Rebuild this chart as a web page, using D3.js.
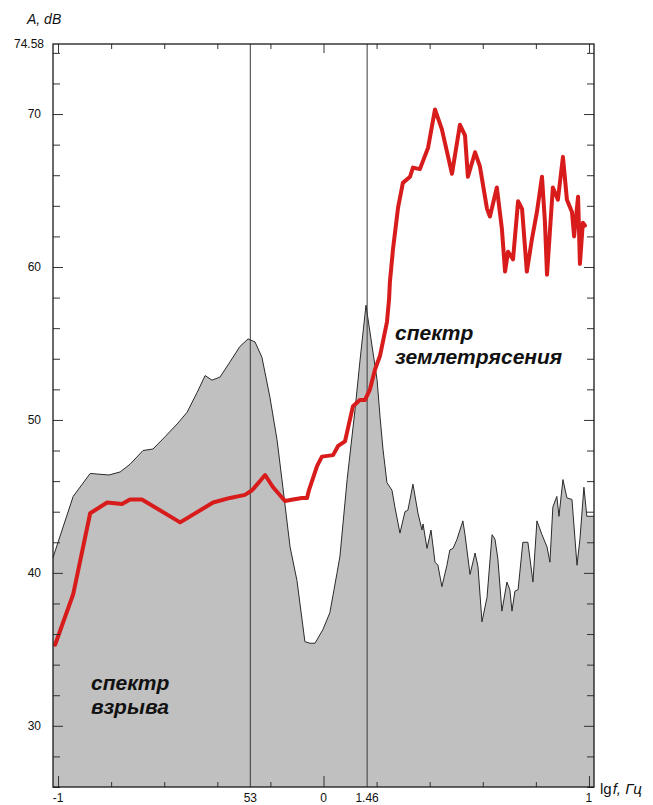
<!DOCTYPE html>
<html>
<head>
<meta charset="utf-8">
<script src="https://cdn.jsdelivr.net/npm/d3@7"></script>
<style>
  html, body { margin: 0; padding: 0; background: #fff; }
  svg { display: block; font-family: "Liberation Sans", Arial, sans-serif; }
</style>
</head>
<body>
<svg id="chart" width="653" height="805"></svg>
<script>
// Amplitude axis ticks (dB)
const yMajorTicks = [30, 40, 50, 60, 70];
const yMinorTicks = [26, 28, 32, 34, 36, 38, 42, 44, 46, 48, 52, 54, 56, 58, 62, 64, 66, 68, 72, 74];
const yTopValue = 74.58;
const yTopLabel = "74.58";

// Frequency axis ticks (lg f)
const xMinorTicks = [-0.8, -0.6, -0.4, -0.2, 0.2, 0.4, 0.6, 0.8];
const xMajorTicks = [-1, 0, 1];
const xMajorLabels = ["-1", "0", "1"];

// Marked frequencies, Hz
const markerFreqs = [0.53, 1.46];
const markerLabels = ["53", "1.46"];

// Explosion spectrum: [lg f, A dB]
const explosionSpectrum = [
  [-1.019, 41.0], [-0.943, 45.0], [-0.879, 46.5], [-0.808, 46.4], [-0.766, 46.6],
  [-0.729, 47.1], [-0.680, 48.0], [-0.642, 48.1], [-0.597, 48.9], [-0.548, 49.8],
  [-0.514, 50.5], [-0.476, 51.8], [-0.446, 52.9], [-0.420, 52.6], [-0.390, 52.8],
  [-0.352, 53.8], [-0.315, 54.8], [-0.284, 55.3], [-0.258, 55.1], [-0.232, 54.1],
  [-0.202, 51.5], [-0.175, 48.7], [-0.153, 45.6], [-0.126, 41.7], [-0.100, 39.5],
  [-0.070, 35.5], [-0.051, 35.4], [-0.032, 35.4], [-0.002, 36.3], [0.024, 37.4],
  [0.051, 40.0], [0.062, 41.1], [0.089, 46.1], [0.119, 50.7], [0.137, 53.8],
  [0.160, 57.5], [0.202, 52.6], [0.213, 50.2], [0.224, 48.1], [0.239, 45.9],
  [0.258, 45.4], [0.269, 44.3], [0.288, 42.6], [0.307, 44.0], [0.318, 44.1],
  [0.337, 45.8], [0.356, 43.9], [0.371, 42.8], [0.375, 43.2], [0.390, 41.6],
  [0.405, 42.8], [0.420, 40.7], [0.431, 40.5], [0.446, 39.1], [0.465, 40.5],
  [0.476, 41.5], [0.488, 41.6], [0.503, 42.2], [0.525, 43.4], [0.533, 42.5],
  [0.552, 39.9], [0.571, 41.3], [0.582, 40.4], [0.597, 36.8], [0.616, 38.4],
  [0.635, 42.5], [0.646, 42.2], [0.657, 40.9], [0.672, 37.5], [0.691, 39.4],
  [0.702, 38.9], [0.710, 37.5], [0.721, 38.8], [0.733, 38.9], [0.751, 42.0],
  [0.770, 42.0], [0.789, 39.4], [0.804, 43.4], [0.823, 42.5], [0.842, 41.7],
  [0.853, 40.7], [0.864, 44.3], [0.879, 45.0], [0.887, 43.7], [0.902, 46.1],
  [0.917, 44.9], [0.936, 44.8], [0.955, 40.5], [0.966, 42.2], [0.981, 45.6],
  [0.992, 43.7], [1.019, 43.7]
];

// Earthquake spectrum: [lg f, A dB]
const quakeSpectrum = [
  [-1.011, 35.3], [-0.943, 38.6], [-0.879, 43.9], [-0.815, 44.6], [-0.759, 44.5],
  [-0.729, 44.8], [-0.684, 44.8], [-0.540, 43.3], [-0.416, 44.6], [-0.352, 44.9],
  [-0.296, 45.1], [-0.269, 45.4], [-0.220, 46.4], [-0.190, 45.6], [-0.145, 44.7],
  [-0.115, 44.8], [-0.081, 44.9], [-0.062, 44.9], [-0.055, 45.4], [-0.024, 47.0],
  [-0.006, 47.6], [0.036, 47.7], [0.055, 48.3], [0.081, 48.6], [0.111, 50.9],
  [0.137, 51.3], [0.156, 51.3], [0.175, 52.0], [0.194, 53.3], [0.213, 54.2],
  [0.239, 56.4], [0.247, 57.9], [0.250, 59.0], [0.262, 61.2], [0.281, 63.9],
  [0.299, 65.5], [0.326, 65.9], [0.337, 66.5], [0.363, 66.4], [0.394, 67.8],
  [0.420, 70.3], [0.446, 69.0], [0.484, 66.1], [0.514, 69.3], [0.533, 68.6],
  [0.544, 65.9], [0.571, 67.5], [0.589, 66.6], [0.616, 63.8], [0.627, 63.3],
  [0.653, 65.2], [0.672, 62.5], [0.684, 59.7], [0.695, 61.0], [0.714, 60.5],
  [0.733, 64.3], [0.748, 63.8], [0.766, 59.7], [0.785, 61.8], [0.804, 63.6],
  [0.823, 65.9], [0.834, 63.0], [0.842, 59.5], [0.864, 65.2], [0.883, 64.4],
  [0.902, 67.2], [0.917, 64.4], [0.936, 63.6], [0.944, 62.0], [0.959, 64.6],
  [0.966, 60.2], [0.977, 62.9], [0.985, 62.7]
];

const svg = d3.select("#chart");

const x = d3.scaleLinear().domain([-1.019, 1.019]).range([53, 594]);
const y = d3.scaleLinear().domain([26, yTopValue]).range([787, 44]);

const [x0, x1] = x.range();
const [yb, yt] = y.range();

// Explosion spectrum as a filled area
const area = d3.area()
  .x(d => x(d[0]))
  .y0(y(26))
  .y1(d => y(d[1]));
const outline = d3.line()
  .x(d => x(d[0]))
  .y(d => y(d[1]));

svg.append("path")
  .datum(explosionSpectrum)
  .attr("d", area)
  .attr("fill", "#c0c0c0");
svg.append("path")
  .datum(explosionSpectrum)
  .attr("d", outline)
  .attr("fill", "none")
  .attr("stroke", "#2a2a2a")
  .attr("stroke-width", 1);

// Vertical marker lines at the characteristic frequencies
svg.selectAll("line.marker")
  .data(markerFreqs)
  .join("line")
  .attr("class", "marker")
  .attr("x1", d => x(Math.log10(d)))
  .attr("x2", d => x(Math.log10(d)))
  .attr("y1", yt)
  .attr("y2", yb)
  .attr("stroke", "#3a3a3a")
  .attr("stroke-width", 1);

// Earthquake spectrum line
svg.append("path")
  .datum(quakeSpectrum)
  .attr("d", outline)
  .attr("fill", "none")
  .attr("stroke", "#d81c1c")
  .attr("stroke-width", 4)
  .attr("stroke-linejoin", "round")
  .attr("stroke-linecap", "round");

// Tick marks on all four sides, pointing inward
function ticks(axisFn, scale, values, size, transform) {
  const g = svg.append("g")
    .attr("transform", transform)
    .call(axisFn(scale).tickValues(values).tickSize(size).tickFormat(""));
  g.select(".domain").remove();
  g.selectAll(".tick line").attr("stroke", "#333").attr("stroke-width", 1);
}
ticks(d3.axisLeft, y, yMajorTicks, -10, `translate(${x0},0)`);
ticks(d3.axisLeft, y, yMinorTicks, -7, `translate(${x0},0)`);
ticks(d3.axisRight, y, yMajorTicks, -10, `translate(${x1},0)`);
ticks(d3.axisRight, y, yMinorTicks, -7, `translate(${x1},0)`);
ticks(d3.axisBottom, x, xMajorTicks, -11, `translate(0,${yb})`);
ticks(d3.axisBottom, x, xMinorTicks, -5, `translate(0,${yb})`);
ticks(d3.axisTop, x, xMajorTicks, -9, `translate(0,${yt})`);
ticks(d3.axisTop, x, xMinorTicks, -5, `translate(0,${yt})`);

// Frame
svg.append("rect")
  .attr("x", x0).attr("y", yt)
  .attr("width", x1 - x0).attr("height", yb - yt)
  .attr("fill", "none")
  .attr("stroke", "#1a1a1a")
  .attr("stroke-width", 1.3);

// Y tick labels
svg.selectAll("text.ylab")
  .data(yMajorTicks)
  .join("text")
  .attr("class", "ylab")
  .attr("x", 41)
  .attr("y", d => y(d) + 4)
  .attr("text-anchor", "end")
  .attr("font-size", 12)
  .attr("fill", "#111")
  .text(d => d);
svg.append("text")
  .attr("x", 44).attr("y", y(yTopValue) + 4)
  .attr("text-anchor", "end")
  .attr("font-size", 12)
  .attr("fill", "#111")
  .text(yTopLabel);

// X tick labels
const xLabels = xMajorTicks.map((v, i) => ({ v, t: xMajorLabels[i] }))
  .concat(markerFreqs.map((f, i) => ({ v: Math.log10(f), t: markerLabels[i] })));
svg.selectAll("text.xlab")
  .data(xLabels)
  .join("text")
  .attr("class", "xlab")
  .attr("x", d => x(d.v))
  .attr("y", 802)
  .attr("text-anchor", "middle")
  .attr("font-size", 12)
  .attr("fill", "#111")
  .text(d => d.t);

// Axis titles
svg.append("text")
  .attr("x", 27).attr("y", 24)
  .attr("font-size", 14)
  .attr("font-style", "italic")
  .attr("fill", "#111")
  .text("A, dB");
const xt = svg.append("text")
  .attr("x", 600).attr("y", 794)
  .attr("font-size", 15)
  .attr("fill", "#111");
xt.append("tspan").text("lg");
xt.append("tspan").attr("font-style", "italic").attr("dx", 1).text("f, Гц");

// Curve captions
function caption(lines, px, py) {
  const t = svg.append("text")
    .attr("x", px).attr("y", py)
    .attr("font-size", 21)
    .attr("font-weight", "bold")
    .attr("font-style", "italic")
    .attr("fill", "#111");
  lines.forEach((s, i) => {
    t.append("tspan").attr("x", px).attr("dy", i === 0 ? 0 : 23.5).text(s);
  });
}
caption(["спектр", "взрыва"], 91, 690);
caption(["спектр", "землетрясения"], 395, 340);
</script>
</body>
</html>
